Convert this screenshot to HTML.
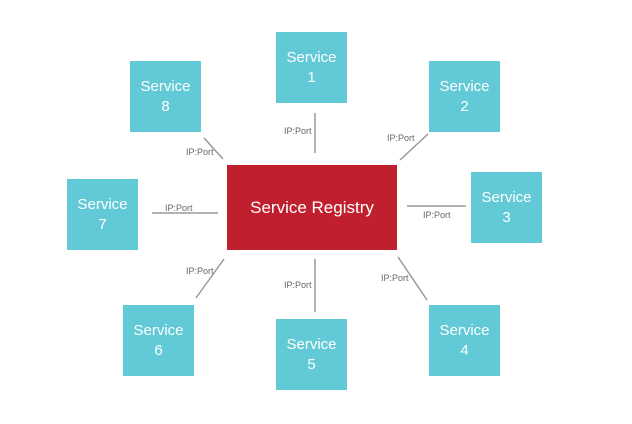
<!DOCTYPE html><html><head><style>
body{margin:0;width:632px;height:424px;background:#fff;position:relative;overflow:hidden;font-family:"Liberation Sans",sans-serif}
.s{position:absolute;width:71px;height:71px;background:#62c9d6;color:#fff;font-size:15px;line-height:20px;display:flex;align-items:center;justify-content:center;text-align:center}
.r{position:absolute;left:227px;top:165px;width:170px;height:85px;background:#c0202e;color:#fff;font-size:17px;display:flex;align-items:center;justify-content:center}
.l{position:absolute;font-size:9px;color:#666}
svg{position:absolute;left:0;top:0}
</style></head><body>
<svg width="632" height="424"><g stroke="#999" stroke-width="1.5">
<line x1="315" y1="113" x2="315" y2="153"/>
<line x1="204" y1="138" x2="223" y2="159"/>
<line x1="152" y1="213" x2="218" y2="213"/>
<line x1="400" y1="160" x2="428" y2="134"/>
<line x1="407" y1="206" x2="466" y2="206"/>
<line x1="398" y1="257" x2="427" y2="300"/>
<line x1="315" y1="259" x2="315" y2="312"/>
<line x1="224" y1="259" x2="196" y2="298"/>
</g></svg>
<div class="s" style="left:276px;top:32px">Service<br>1</div>
<div class="s" style="left:429px;top:61px">Service<br>2</div>
<div class="s" style="left:471px;top:172px">Service<br>3</div>
<div class="s" style="left:429px;top:305px">Service<br>4</div>
<div class="s" style="left:276px;top:319px">Service<br>5</div>
<div class="s" style="left:123px;top:305px">Service<br>6</div>
<div class="s" style="left:67px;top:179px">Service<br>7</div>
<div class="s" style="left:130px;top:61px">Service<br>8</div>
<div class="r">Service Registry</div>
<div class="l" style="left:284px;top:126px">IP:Port</div>
<div class="l" style="left:186px;top:147px">IP:Port</div>
<div class="l" style="left:165px;top:203px">IP:Port</div>
<div class="l" style="left:387px;top:133px">IP:Port</div>
<div class="l" style="left:423px;top:210px">IP:Port</div>
<div class="l" style="left:381px;top:273px">IP:Port</div>
<div class="l" style="left:284px;top:280px">IP:Port</div>
<div class="l" style="left:186px;top:266px">IP:Port</div>
</body></html>
